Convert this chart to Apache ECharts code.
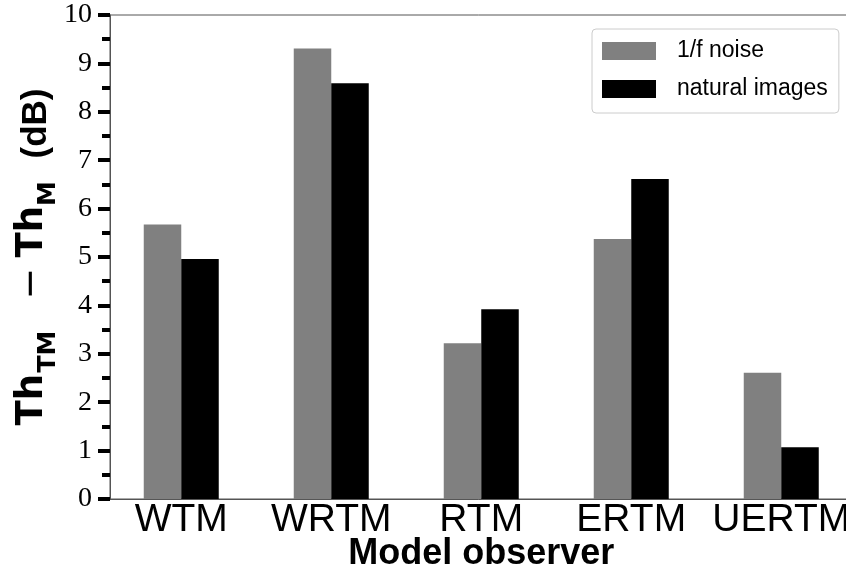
<!DOCTYPE html>
<html>
<head>
<meta charset="utf-8">
<script src="https://cdn.jsdelivr.net/npm/echarts@6/dist/echarts.min.js"></script>
<style>
  html, body { margin: 0; padding: 0; background: #fff; }
  #chart { width: 846px; height: 580px; }
</style>
</head>
<body>
<div id="chart"></div>
<script>
// Model observers along the x axis
const categories = ['WTM', 'WRTM', 'RTM', 'ERTM', 'UERTM'];
// Threshold difference Th_TM - Th_M in dB for each background type
const noiseValues = [5.67, 9.31, 3.22, 5.37, 2.61];
const naturalValues = [4.96, 8.59, 3.92, 6.61, 1.07];
const seriesNames = ['1/f noise', 'natural images'];
// y axis range and tick step
const yMin = 0;
const yMax = 10;
const yStep = 1;

const positions = categories.map((_, i) => i);
const toPairs = vals => vals.map((v, i) => [positions[i], v]);

const chart = echarts.init(document.getElementById('chart'), null, { renderer: 'canvas' });

const option = {
  animation: false,
  backgroundColor: '#ffffff',
  grid: {
    left: 110,
    top: 15,
    width: 742.5,
    height: 484,
    outerBoundsMode: 'none',
    containLabel: false,
    show: true,
    borderColor: '#555555',
    borderWidth: 1,
    backgroundColor: 'transparent'
  },
  legend: {
    orient: 'vertical',
    left: 592,
    top: 29,
    width: 246,
    padding: [10.5, 11, 12.5, 10],
    itemWidth: 54,
    itemHeight: 18,
    itemGap: 15,
    icon: 'rect',
    borderColor: '#cccccc',
    borderWidth: 1,
    borderRadius: 4,
    backgroundColor: '#ffffff',
    textStyle: {
      fontFamily: 'Liberation Sans',
      fontSize: 23,
      color: '#000',
      padding: [0, 0, 0, 16]
    },
    data: seriesNames
  },
  xAxis: {
    type: 'value',
    min: -0.475,
    max: 4.475,
    splitLine: { show: false },
    axisLine: { show: true, onZero: false, lineStyle: { color: '#555555', width: 1 } },
    axisTick: { show: false },
    axisLabel: {
      customValues: positions,
      formatter: v => categories[Math.round(v)],
      fontFamily: 'Liberation Sans',
      fontSize: 39,
      color: '#000',
      margin: 2
    },
    name: 'Model observer',
    nameLocation: 'middle',
    nameGap: 37,
    nameMoveOverlap: false,
    nameTextStyle: {
      fontFamily: 'Liberation Sans',
      fontWeight: 'bold',
      fontSize: 36,
      color: '#000'
    }
  },
  yAxis: {
    type: 'value',
    min: yMin,
    max: yMax,
    interval: yStep,
    splitLine: { show: false },
    axisLine: { show: true, onZero: false, lineStyle: { color: '#555555', width: 1 } },
    axisTick: { show: true, length: 12, lineStyle: { color: '#000', width: 4 } },
    minorTick: { show: true, splitNumber: 2, length: 8, lineStyle: { color: '#000', width: 4 } },
    axisLabel: {
      fontFamily: 'Liberation Serif',
      fontSize: 28,
      color: '#000',
      margin: 18
    },
    name: '{b1|Th}{s|TM}{m|−}{b2|Th}{s2|M}{d|(dB)}',
    nameLocation: 'middle',
    nameGap: 49,
    nameMoveOverlap: false,
    nameTextStyle: {
      color: '#000',
      rich: {
        b1: {
          fontFamily: 'DejaVu Sans',
          fontWeight: 'bold',
          fontSize: 37,
          lineHeight: 37,
          verticalAlign: 'bottom',
          padding: [0, 1.4, 10.3, 0]
        },
        s: {
          fontFamily: 'DejaVu Sans',
          fontWeight: 'bold',
          fontSize: 25,
          lineHeight: 25,
          verticalAlign: 'bottom'
        },
        m: {
          fontFamily: 'DejaVu Sans',
          fontWeight: 'normal',
          fontSize: 38,
          lineHeight: 38,
          verticalAlign: 'bottom',
          padding: [0, 10.2, 9.7, 31]
        },
        b2: {
          fontFamily: 'DejaVu Sans',
          fontWeight: 'bold',
          fontSize: 37,
          lineHeight: 37,
          verticalAlign: 'bottom',
          padding: [0, 0, 10.3, 0]
        },
        s2: {
          fontFamily: 'DejaVu Sans',
          fontWeight: 'bold',
          fontSize: 25,
          lineHeight: 25,
          verticalAlign: 'bottom',
          padding: [0, 22.5, 0, 0]
        },
        d: {
          fontFamily: 'Liberation Sans',
          fontWeight: 'bold',
          fontSize: 35,
          lineHeight: 35,
          verticalAlign: 'bottom',
          padding: [0, 0, 6.9, 0]
        }
      }
    }
  },
  series: [
    {
      name: seriesNames[0],
      type: 'bar',
      data: toPairs(noiseValues),
      barWidth: 37.5,
      barGap: '0%',
      itemStyle: { color: '#808080' }
    },
    {
      name: seriesNames[1],
      type: 'bar',
      data: toPairs(naturalValues),
      barWidth: 37.5,
      barGap: '0%',
      itemStyle: { color: '#000000' }
    }
  ]
};

chart.setOption(option);
</script>
</body>
</html>
